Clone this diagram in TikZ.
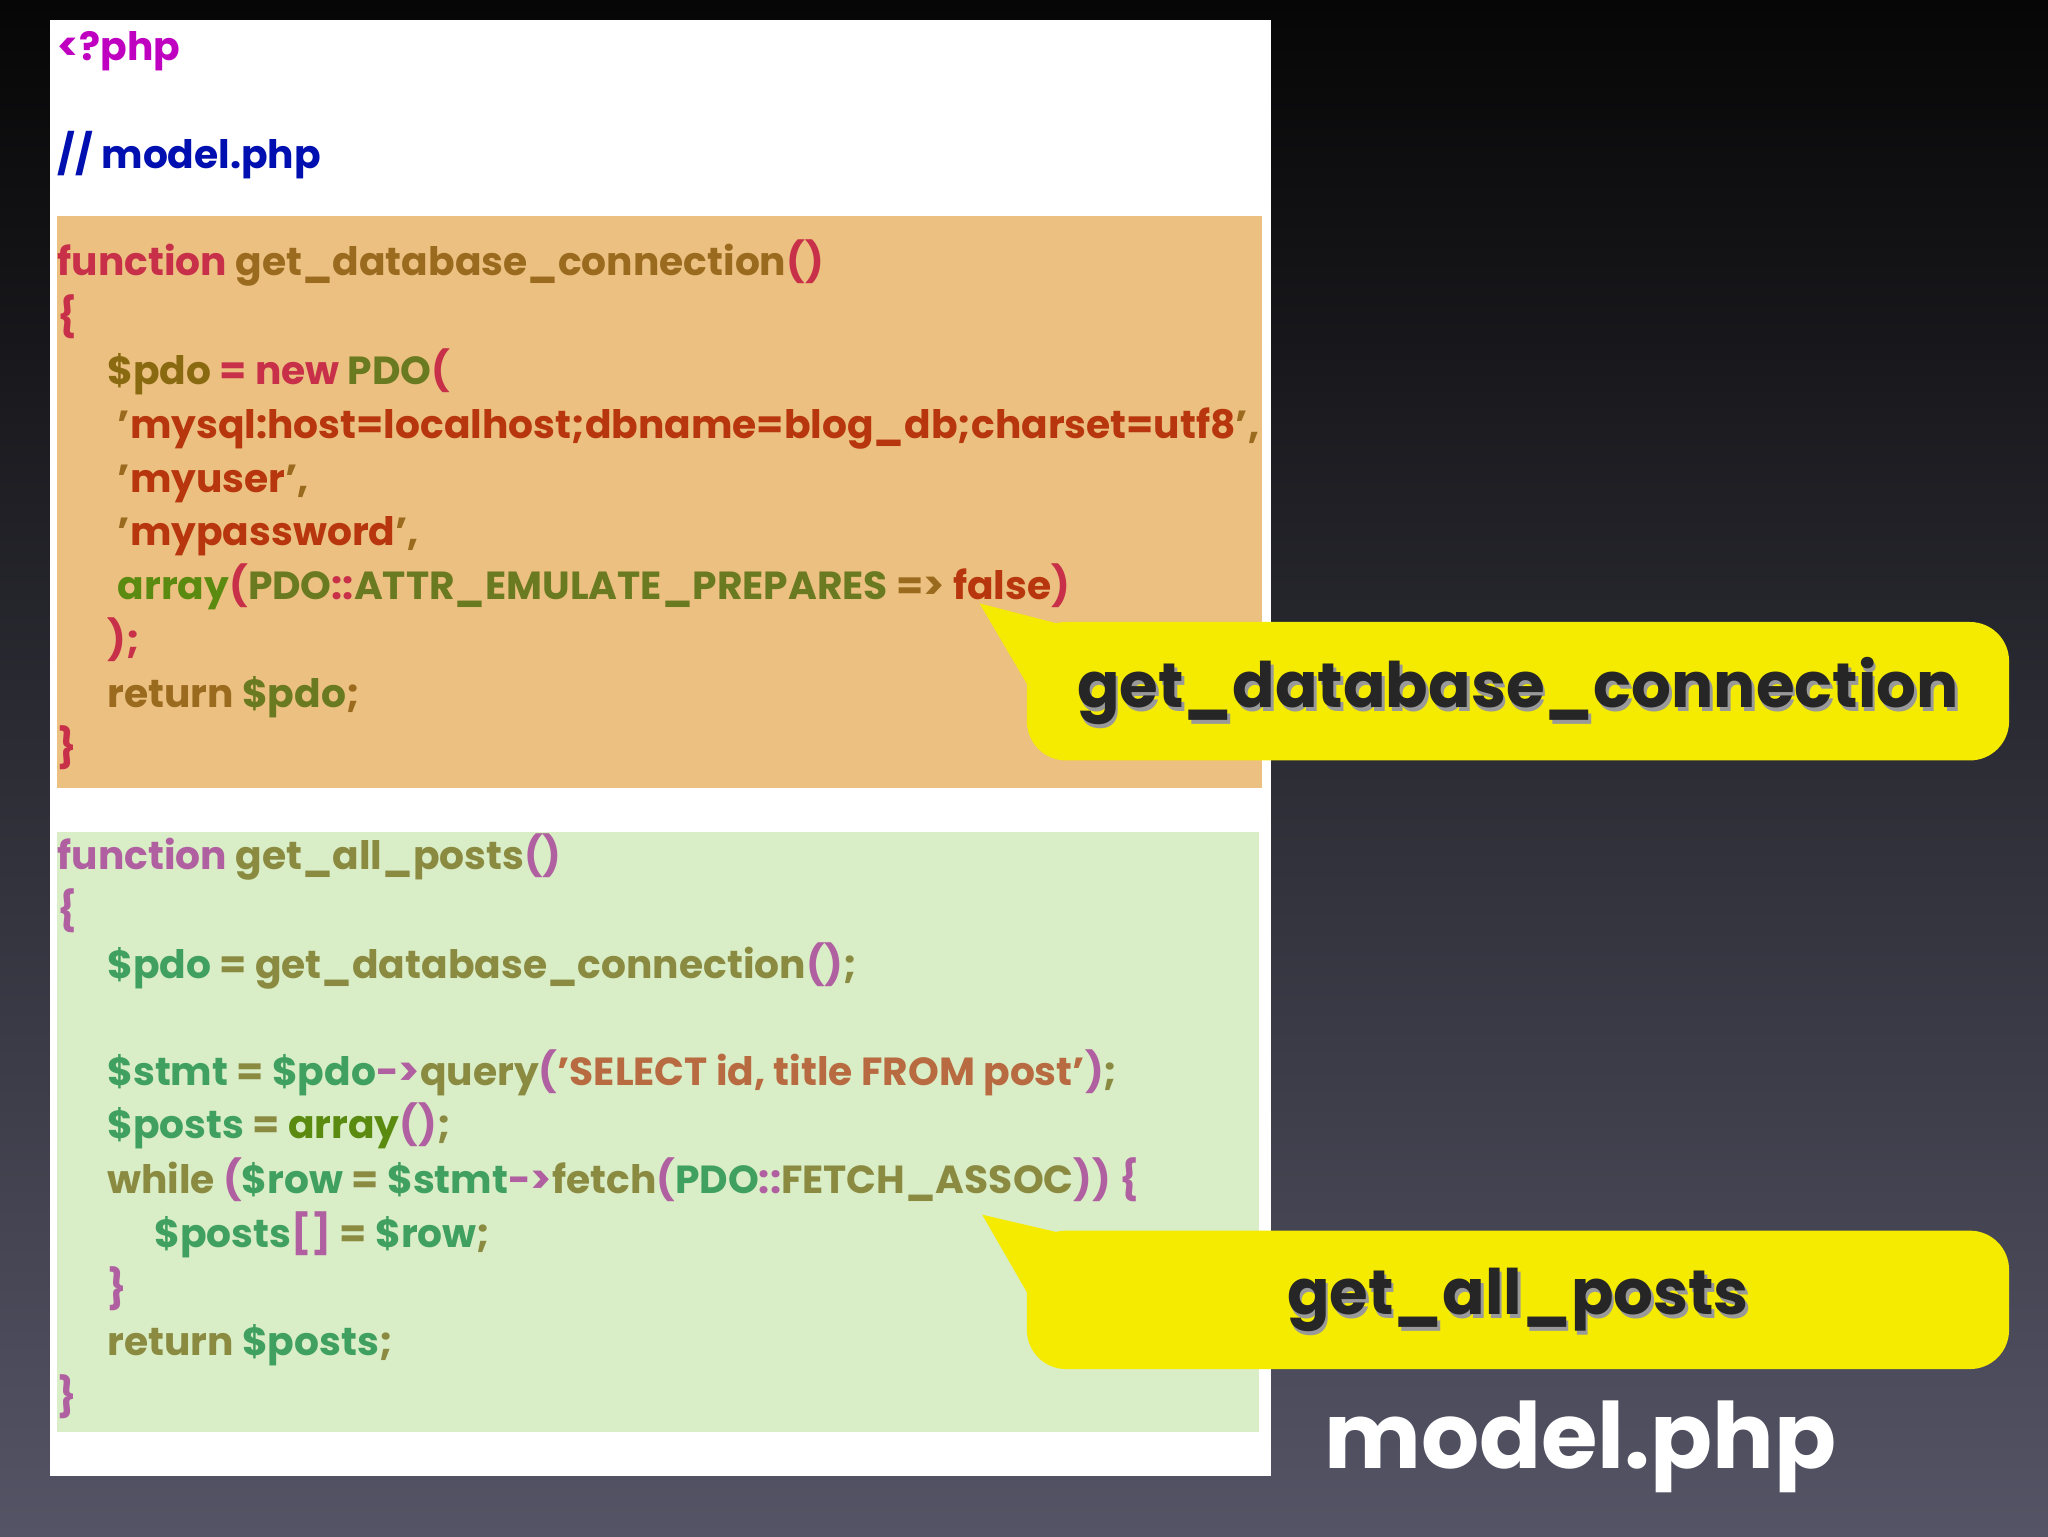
\documentclass[tikz,border=0pt]{standalone}
\usepackage{fontspec}
\usetikzlibrary{calc}
\setmainfont{Poppins}
\definecolor{bgtop}{HTML}{060606}
\definecolor{bgbot}{HTML}{545466}
\definecolor{orbox}{HTML}{EBC080}
\definecolor{grbox}{HTML}{D9EDC6}
\definecolor{callout}{HTML}{F5EB00}
\definecolor{kwA}{HTML}{C8304A}
\definecolor{nmA}{HTML}{9A6A1E}
\definecolor{vrA}{HTML}{8A6A10}
\definecolor{clA}{HTML}{6A7A20}
\definecolor{stA}{HTML}{B8360E}
\definecolor{arA}{HTML}{5A8A10}
\definecolor{kwB}{HTML}{B060A0}
\definecolor{nmB}{HTML}{8A8A40}
\definecolor{vrB}{HTML}{40A060}
\definecolor{stB}{HTML}{B86A40}
\definecolor{phpc}{HTML}{C000C0}
\definecolor{cmt}{HTML}{0010B0}
\newcommand\cc[2]{\textcolor{#1}{#2}}
\newcommand\qq{\char"0027\relax}
\begin{document}
\begin{tikzpicture}[x=1pt,y=-1pt,
  code/.style={anchor=base west,inner sep=0pt,font=\bfseries\fontsize{30}{34}\selectfont},
  bubble/.style={fill=callout,rounded corners=30pt,minimum width=752pt,minimum height=106pt,anchor=north west,inner sep=0pt},
  big/.style={font=\bfseries\fontsize{48}{56}\selectfont}]
\useasboundingbox (0,0) rectangle (1568,1176);
\shade[top color=bgtop,bottom color=bgbot] (0,0) rectangle (1568,1176);
\fill[white] (38,15) rectangle (973,1130);
\fill[orbox] (44,165) rectangle (966,603);
\fill[grbox] (44,637) rectangle (964,1096);
% header
\node[code] (l0) at (44,46) {\cc{phpc}{<?php}};
\node[code] (l1) at (44,129) {\cc{cmt}{// model.php}};
% orange block
\node[code] (a1) at (44,211) {\cc{kwA}{function} \cc{nmA}{get\_database\_connection}\cc{kwA}{()}};
\node[code] (a2) at (44,253) {\cc{kwA}{\{}};
\node[code] (a3) at (82,294) {\cc{vrA}{\$pdo} \cc{kwA}{= new} \cc{clA}{PDO}\cc{kwA}{(}};
\node[code] (a4) at (90,336) {\cc{nmA}{\qq}\cc{stA}{mysql:host=localhost;dbname=blog\_db;charset=utf8}\cc{nmA}{\qq,}};
\node[code] (a5) at (90,377) {\cc{nmA}{\qq}\cc{stA}{myuser}\cc{nmA}{\qq,}};
\node[code] (a6) at (90,418) {\cc{nmA}{\qq}\cc{stA}{mypassword}\cc{nmA}{\qq,}};
\node[code] (a7) at (90,459) {\cc{arA}{array}\cc{kwA}{(}\cc{clA}{PDO}\cc{kwA}{::}\cc{clA}{ATTR\_EMULATE\_PREPARES} \cc{nmA}{=>} \cc{stA}{false}\cc{kwA}{)}};
\node[code] (a8) at (82,500) {\cc{kwA}{);}};
\node[code] (a9) at (82,542) {\cc{nmA}{return} \cc{clA}{\$pdo}\cc{nmA}{;}};
\node[code] (a10) at (44,583) {\cc{kwA}{\}}};
% green block
\node[code] (b1) at (44,666) {\cc{kwB}{function} \cc{nmB}{get\_all\_posts}\cc{kwB}{()}};
\node[code] (b2) at (44,708) {\cc{kwB}{\{}};
\node[code] (b3) at (82,749) {\cc{vrB}{\$pdo} \cc{nmB}{= get\_database\_connection}\cc{kwB}{()}\cc{nmB}{;}};
\node[code] (b4) at (82,831) {\cc{vrB}{\$stmt} \cc{nmB}{=} \cc{vrB}{\$pdo}\cc{kwB}{->}\cc{nmB}{query}\cc{kwB}{(}\cc{stB}{\qq SELECT id, title FROM post\qq}\cc{kwB}{)}\cc{nmB}{;}};
\node[code] (b5) at (82,872) {\cc{vrB}{\$posts} \cc{nmB}{=} \cc{arA}{array}\cc{kwB}{()}\cc{nmB}{;}};
\node[code] (b6) at (82,914) {\cc{nmB}{while} \cc{kwB}{(}\cc{vrB}{\$row} \cc{nmB}{=} \cc{vrB}{\$stmt}\cc{kwB}{->}\cc{nmB}{fetch}\cc{kwB}{(}\cc{vrB}{PDO}\cc{kwB}{::}\cc{nmB}{FETCH\_ASSOC}\cc{kwB}{)) \{}};
\node[code] (b7) at (118,955) {\cc{vrB}{\$posts}\cc{kwB}{[]} \cc{nmB}{=} \cc{vrB}{\$row}\cc{nmB}{;}};
\node[code] (b8) at (82,997) {\cc{kwB}{\}}};
\node[code] (b9) at (82,1038) {\cc{nmB}{return} \cc{vrB}{\$posts}\cc{nmB}{;}};
\node[code] (b10) at (44,1080) {\cc{kwB}{\}}};
% callouts
\node[bubble] (c1) at (786,476) {};
\fill[callout] (750,462) -- (812,478) -- (790,530) -- cycle;
\node[big,text=black!40] at ($(c1.center)+(2,3)$) {get\_database\_connection};
\node[big,text=black!85] (t1) at (c1.center) {get\_database\_connection};
\node[bubble] (c2) at (786,942) {};
\fill[callout] (752,930) -- (812,944) -- (790,996) -- cycle;
\node[big,text=black!40] at ($(c2.center)+(2,3)$) {get\_all\_posts};
\node[big,text=black!85] (t2) at (c2.center) {get\_all\_posts};
\node[font=\bfseries\fontsize{70}{74}\selectfont,text=white] (m) at (1210,1108) {model.php};
\end{tikzpicture}
\end{document}
